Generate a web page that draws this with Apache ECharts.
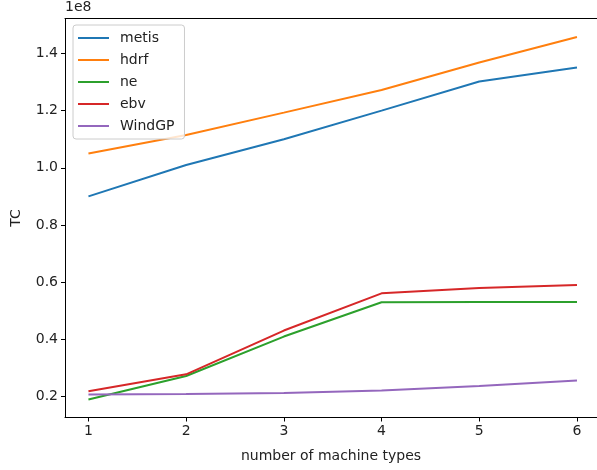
<!DOCTYPE html>
<html>
<head>
<meta charset="utf-8">
<script src="https://cdn.jsdelivr.net/npm/echarts@6/dist/echarts.min.js"></script>
<style>
  html, body { margin: 0; padding: 0; background: #fff; }
  #chart { width: 597px; height: 470px; }
</style>
</head>
<body>
<div id="chart"></div>
<script>
// number of machine types
var machineTypes = [1, 2, 3, 4, 5, 6];
// TC values (raw, axis shows them in 1e8)
var metis  = [0.900e8, 1.010e8, 1.100e8, 1.200e8, 1.302e8, 1.351e8];
var hdrf   = [1.050e8, 1.115e8, 1.193e8, 1.272e8, 1.368e8, 1.457e8];
var ne     = [0.190e8, 0.272e8, 0.410e8, 0.530e8, 0.531e8, 0.531e8];
var ebv    = [0.219e8, 0.278e8, 0.431e8, 0.561e8, 0.580e8, 0.590e8];
var windgp = [0.207e8, 0.209e8, 0.213e8, 0.221e8, 0.237e8, 0.256e8];
var yTicks = [0.2e8, 0.4e8, 0.6e8, 0.8e8, 1.0e8, 1.2e8, 1.4e8];

var names  = ['metis', 'hdrf', 'ne', 'ebv', 'WindGP'];
var values = [metis, hdrf, ne, ebv, windgp];
var colors = ['#1f77b4', '#ff7f0e', '#2ca02c', '#d62728', '#9467bd'];

function pairs(arr) {
    return machineTypes.map(function (x, i) { return [x, arr[i]]; });
}

var chart = echarts.init(document.getElementById('chart'));
var font = 'DejaVu Sans';

var series = names.map(function (n, i) {
    return {
        name: n,
        type: 'line',
        data: pairs(values[i]),
        symbol: 'none',
        lineStyle: { width: 2, color: colors[i] },
        itemStyle: { color: colors[i] },
        animation: false
    };
});

// the original plot is cut at the right edge, so the x range ends early
var xMin = 0.76, xMax = 6.205;

var option = {
    backgroundColor: '#fff',
    textStyle: { fontFamily: font },
    grid: { left: 65, top: 18.5, right: 0, bottom: 52.5 },
    legend: {
        orient: 'vertical',
        left: 73,
        top: 25,
        data: names,
        icon: 'rect',
        itemWidth: 31,
        itemHeight: 2,
        itemGap: 8,
        padding: [6, 10, 6, 5],
        backgroundColor: 'rgba(255,255,255,0.8)',
        borderColor: '#cccccc',
        borderWidth: 1,
        borderRadius: 3,
        textStyle: { fontFamily: font, fontSize: 14, color: '#222', padding: [0, 0, 0, 6] }
    },
    graphic: [{
        type: 'text',
        left: 65,
        top: 0,
        style: { text: '1e8', font: '14px "DejaVu Sans"', fill: '#222' }
    }],
    xAxis: [{
        type: 'value',
        min: xMin,
        max: xMax,
        name: 'number of machine types',
        nameLocation: 'middle',
        nameGap: 32,
        nameTextStyle: { fontSize: 14, color: '#222', fontFamily: font },
        axisLine: { show: true, lineStyle: { color: '#000', width: 1 } },
        axisTick: { show: true, length: 4, lineStyle: { color: '#000' }, customValues: machineTypes },
        axisLabel: {
            fontSize: 14, color: '#222', margin: 7,
            customValues: machineTypes
        },
        splitLine: { show: false }
    }, {
        type: 'value',
        position: 'top',
        min: xMin,
        max: xMax,
        axisLine: { show: true, onZero: false, lineStyle: { color: '#000', width: 1 } },
        axisTick: { show: false },
        axisLabel: { show: false },
        splitLine: { show: false }
    }],
    yAxis: {
        type: 'value',
        min: 0.127e8,
        max: 1.522e8,
        name: 'TC',
        nameLocation: 'middle',
        nameGap: 42,
        nameTextStyle: { fontSize: 14, color: '#222', fontFamily: font },
        axisLine: { show: true, lineStyle: { color: '#000', width: 1 } },
        axisTick: { show: true, length: 4, lineStyle: { color: '#000' }, customValues: yTicks },
        axisLabel: {
            fontSize: 14, color: '#222', margin: 7,
            customValues: yTicks,
            formatter: function (v) { return (v / 1e8).toFixed(1); }
        },
        splitLine: { show: false }
    },
    series: series
};

chart.setOption(option);
</script>
</body>
</html>
